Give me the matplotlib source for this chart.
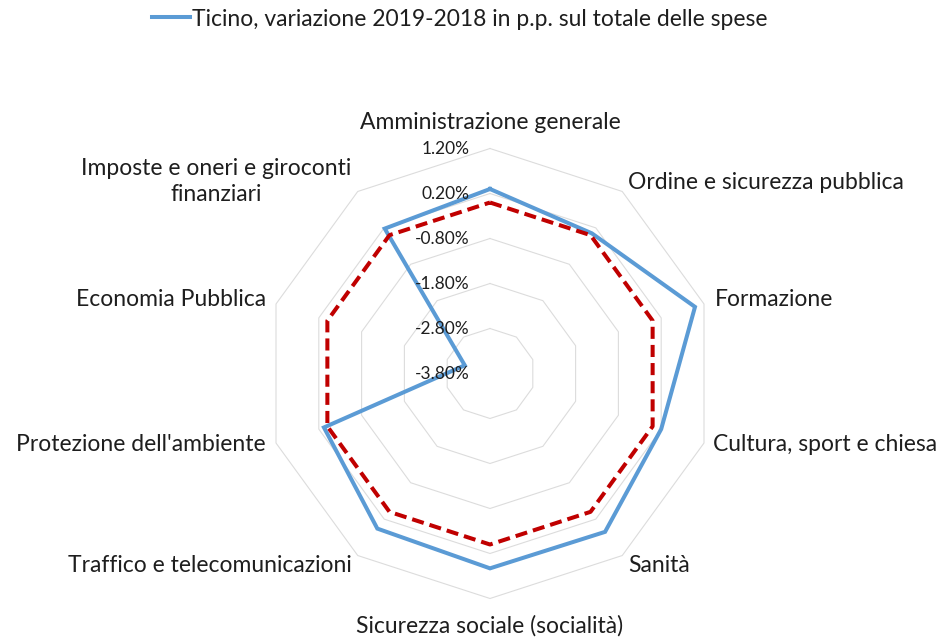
import numpy as np
import matplotlib
matplotlib.use('Agg')
import matplotlib.pyplot as plt
from matplotlib.lines import Line2D

plt.rcParams['font.family'] = ['Lato', 'DejaVu Sans']

# spending categories, clockwise from the top
categories = [
    'Amministrazione generale',
    'Ordine e sicurezza pubblica',
    'Formazione',
    'Cultura, sport e chiesa',
    'Sanità',
    'Sicurezza sociale (socialità)',
    'Traffico e telecomunicazioni',
    "Protezione dell'ambiente",
    'Economia Pubblica',
    'Imposte e oneri e giroconti\nfinanziari',
]
# change 2019-2018 in percentage points of total spending
ticino = [0.30, 0.05, 0.99, 0.20, 0.55, 0.53, 0.46, 0.08, -3.21, 0.18]
zero_line = [0.0] * len(categories)
ring_values = [-3.8, -2.8, -1.8, -0.8, 0.2, 1.2]
legend_label = 'Ticino, variazione 2019-2018 in p.p. sul totale delle spese'

blue = '#5B9BD5'
red = '#C00000'
grid_col = '#DCDCDC'
text_col = '#1E1E1E'

W, H = 953, 639
fig = plt.figure(figsize=(W / 100, H / 100), dpi=100)

cx, cy, R = 490, 373.5, 225
ax = fig.add_axes([(cx - R) / W, (H - cy - R) / H, 2 * R / W, 2 * R / H],
                  projection='polar')
ax.set_theta_zero_location('N')
ax.set_theta_direction(-1)
ax.set_ylim(ring_values[0], ring_values[-1])
ax.grid(False)
ax.set_xticks([])
ax.set_yticks([])
ax.spines['polar'].set_visible(False)
ax.patch.set_alpha(0)

n = len(categories)
theta = np.linspace(0, 2 * np.pi, n, endpoint=False)
theta_c = np.append(theta, theta[0])

# decagon grid rings
for r in ring_values[1:]:
    ax.plot(theta_c, [r] * (n + 1), color=grid_col, lw=0.8, zorder=1, clip_on=False)

ax.plot(theta_c, ticino + ticino[:1], color=blue, lw=2.9, zorder=3,
        solid_joinstyle='miter', clip_on=False)
ax.plot(theta_c, zero_line + zero_line[:1], color=red, lw=2.9, zorder=4,
        linestyle=(0, (3.0, 1.5)), clip_on=False)

# radial tick labels to the left of the vertical axis
for r in ring_values:
    ax.annotate(f'{r:.2f}%', xy=(0, r), xytext=(-20, 0), textcoords='offset pixels',
                ha='right', va='center', fontsize=12.5, color=text_col,
                annotation_clip=False, zorder=5)

# category labels around the outer ring
offsets = [(0, 26, 'center'), (6, 9, 'left'), (11, 4, 'left'), (9, -1, 'left'),
           (6, -10, 'left'), (0, -27, 'center'), (-6, -10, 'right'),
           (-10, -1, 'right'), (-10, 4, 'right'), (-6, 10, 'right')]
for t, lab, (dx, dy, ha) in zip(theta, categories, offsets):
    ax.annotate(lab, xy=(t, ring_values[-1]), xytext=(dx, dy),
                textcoords='offset pixels', ha=ha, va='center',
                multialignment='center', fontsize=16.5, color=text_col,
                linespacing=1.25, annotation_clip=False)

handle = Line2D([], [], color=blue, lw=2.9)
fig.legend([handle], [legend_label], loc='center left',
           bbox_to_anchor=(152 / W, 1 - 19 / H), frameon=False,
           fontsize=16.5, handlelength=1.65, handletextpad=0.1,
           borderpad=0, borderaxespad=0, labelcolor=text_col)

fig.savefig('out.png', dpi=100, facecolor='white')
